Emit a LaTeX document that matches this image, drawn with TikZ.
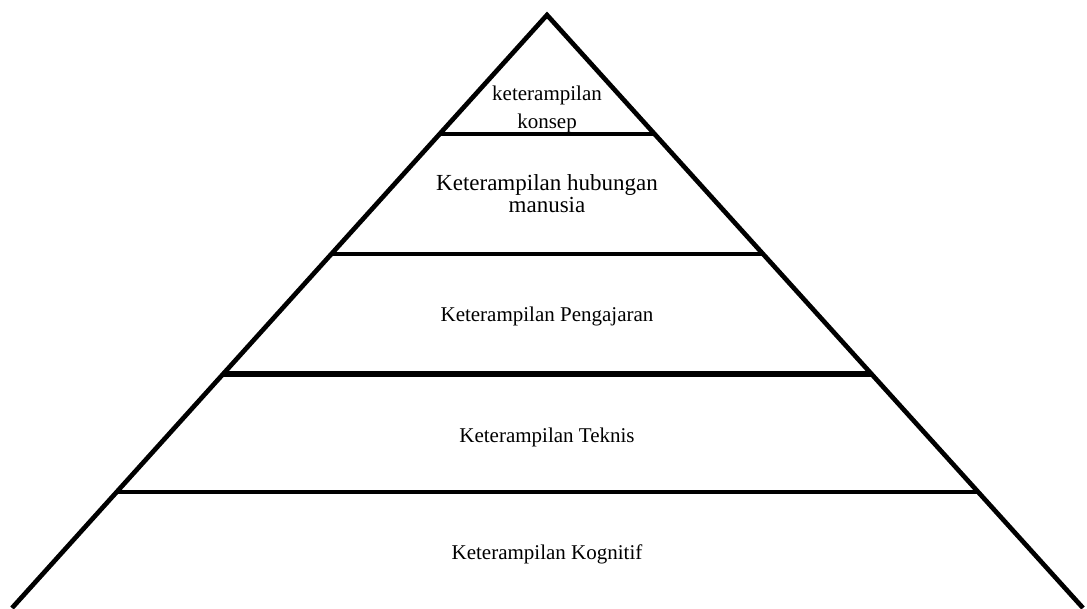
\documentclass[tikz,border=0pt]{standalone}
\usepackage{fontspec}
\setmainfont{Liberation Serif}

\tikzset{
  side line/.style={line width=3.5pt, line join=miter},
  layer line/.style={line width=3.6pt},
  thick layer/.style={line width=5pt},
  layer text/.style={inner sep=0pt, align=center, font=\fontsize{15.75}{21}\selectfont},
  big text/.style={inner sep=0pt, align=center, font=\fontsize{17.25}{16.5}\selectfont}
}

\begin{document}
\begin{tikzpicture}[x=0.75pt,y=0.75pt,yscale=-1,xscale=1]
    \useasboundingbox (0,0) rectangle (1087,608);

    %Corners of the pyramid
    \coordinate (apex) at (547,15);
    \coordinate (bl) at (12,608);
    \coordinate (br) at (1083,608);
    \coordinate (l1) at (440,134);
    \coordinate (r1) at (656,134);
    \coordinate (l2) at (332,254);
    \coordinate (r2) at (764,254);
    \coordinate (l3) at (224,374);
    \coordinate (r3) at (872,374);
    \coordinate (l4) at (117,492);
    \coordinate (r4) at (978,492);

    %Shape: Triangle
    \draw[side line] (bl) -- (apex) -- (br) ;
    %Straight Lines
    \draw[layer line] (l1) -- (r1) ;
    %Straight Lines
    \draw[layer line] (l2) -- (r2) ;
    %Straight Lines
    \draw[thick layer] (l3) -- (r3) ;
    %Straight Lines
    \draw[layer line] (l4) -- (r4) ;

    % Text Node
    \node[layer text] (konsep) at (547,109.2) {keterampilan\\konsep};
    % Text Node
    \node[big text] (manusia) at (547,193.9) {Keterampilan hubungan\\manusia};
    % Text Node
    \node[layer text, anchor=base] (ajar) at (547,321.7) {Keterampilan Pengajaran};
    % Text Node
    \node[layer text, anchor=base] (teknis) at (547,442.7) {Keterampilan Teknis};
    % Text Node
    \node[layer text, anchor=base] (kognitif) at (547,559.3) {Keterampilan Kognitif};

\end{tikzpicture}
\end{document}
